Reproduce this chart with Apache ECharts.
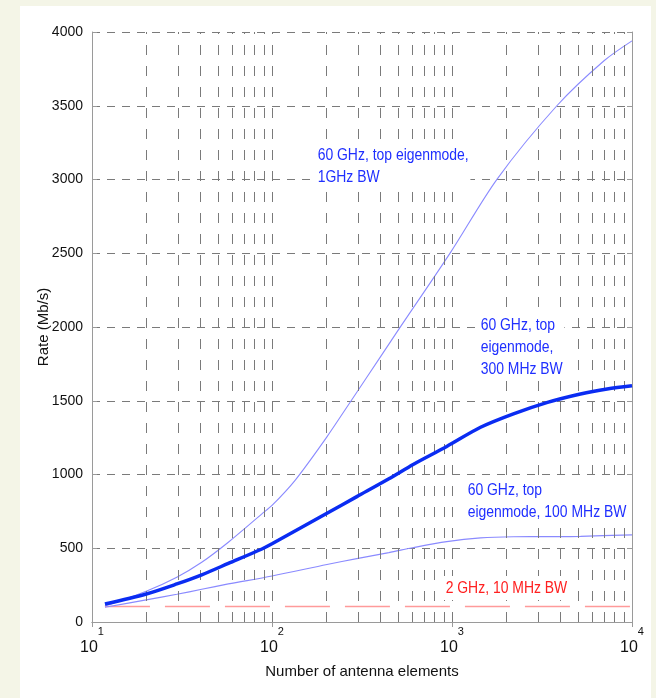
<!DOCTYPE html>
<html>
<head>
<meta charset="utf-8">
<script src="https://cdn.jsdelivr.net/npm/echarts@6/dist/echarts.min.js"></script>
<style>
  html, body { margin:0; padding:0; background:#f4f5e7; }
  #panel { position:absolute; left:20px; top:6px; width:631px; height:692px; background:#ffffff; }
  #chart { position:absolute; left:0; top:0; width:656px; height:698px; }
</style>
</head>
<body>
<div id="panel"></div>
<div id="chart"></div>
<script>
// ---- data ----
const n1GHz    = [11.8, 20, 29.6, 40.7, 57.2, 87.9, 100, 134, 201, 277, 330, 494, 982, 1781, 3825, 6992, 10000];
const rate1GHz = [108, 209, 304, 405, 541, 733, 790, 959, 1252, 1505, 1644, 1965, 2506, 3003, 3500, 3805, 3940];

const n300MHz    = [11.8, 20, 29.6, 40.7, 57.2, 87.9, 100, 202, 296, 446, 612, 935, 1441, 2194, 3393, 5170, 7276, 10000];
const rate300MHz = [122, 190, 258, 320, 397, 495, 530, 737, 850, 971, 1070, 1190, 1320, 1411, 1489, 1546, 1580, 1602];

const n100MHz    = [11.8, 20, 29.6, 40.7, 57.2, 100, 202, 296, 446, 612, 935, 1441, 2194, 3393, 5170, 10000];
const rate100MHz = [100, 150, 188, 222, 258, 312, 390, 430, 470, 505, 545, 570, 578, 579, 581, 591];

const n2GHz    = [11.8, 10000];
const rate2GHz = [105, 105];

const xGridValues = [20,30,40,50,60,70,80,90,100,200,300,400,500,600,700,800,900,1000,2000,3000,4000,5000,6000,7000,8000,9000];
const yTicks = [0, 500, 1000, 1500, 2000, 2500, 3000, 3500, 4000];

const labelsText = {
  l1: '60 GHz, top eigenmode,\n1GHz BW',
  l2: '60 GHz, top\neigenmode,\n300 MHz BW',
  l3: '60 GHz, top\neigenmode, 100 MHz BW',
  l4: '2 GHz, 10 MHz BW'
};

// ---- chart ----
const FONT = "'Liberation Sans', Arial, sans-serif";
const zip = (xs, ys) => xs.map((x, i) => [x, ys[i]]);

const chart = echarts.init(document.getElementById('chart'), null, { renderer: 'canvas' });

const axisGray = '#9a9a9a';
const gridGray = '#7a7a7a';
const NARROW = 0.82;

function note(x, y, text, color) {
  return {
    type: 'text', z: 100, x: x, y: y, scaleX: NARROW,
    style: { text: text, font: '17px ' + FONT, fill: color, lineHeight: 22, backgroundColor: '#fff', padding: [1, 2] }
  };
}

const option = {
  backgroundColor: 'transparent',
  animation: false,
  grid: { left: 92, right: 24, top: 32, bottom: 76 },
  xAxis: [{
    type: 'log', logBase: 10, min: 10, max: 10000,
    position: 'bottom',
    name: 'Number of antenna elements',
    nameLocation: 'middle', nameGap: 42, nameMoveOverlap: false,
    nameTextStyle: { fontFamily: FONT, fontSize: 15, color: '#111' },
    axisLine: { show: true, lineStyle: { color: axisGray, width: 1 } },
    axisTick: { show: true, inside: true, length: 5, lineStyle: { color: axisGray } },
    splitLine: { show: false },
    axisLabel: {
      margin: 4,
      formatter: v => '{b|10}{s|' + Math.round(Math.log10(v)) + '}',
      rich: {
        b: { fontFamily: FONT, fontSize: 16, color: '#111', lineHeight: 30, verticalAlign: 'bottom' },
        s: { fontFamily: FONT, fontSize: 11, color: '#111', lineHeight: 4, verticalAlign: 'top' }
      }
    }
  }, {
    type: 'log', logBase: 10, min: 10, max: 10000,
    position: 'top',
    axisLine: { show: true, lineStyle: { color: axisGray, width: 1 } },
    axisTick: { show: true, inside: true, length: 5, lineStyle: { color: axisGray } },
    axisLabel: { show: false },
    splitLine: { show: false }
  }],
  yAxis: [{
    type: 'value', min: 0, max: 4000, interval: 500,
    position: 'left',
    name: 'Rate (Mb/s)',
    nameLocation: 'middle', nameGap: 41, nameMoveOverlap: false,
    nameTextStyle: { fontFamily: FONT, fontSize: 15, color: '#111' },
    axisLine: { show: true, lineStyle: { color: axisGray, width: 1 } },
    axisTick: { show: true, inside: true, length: 5, lineStyle: { color: axisGray } },
    axisLabel: {
      margin: 9, fontFamily: FONT, fontSize: 14, color: '#111',
      formatter: v => yTicks.includes(v) ? String(v) : ''
    },
    splitLine: { show: true, lineStyle: { color: gridGray, type: [8, 7], width: 1 } }
  }, {
    type: 'value', min: 0, max: 4000, interval: 500,
    position: 'right',
    axisLine: { show: true, lineStyle: { color: axisGray, width: 1 } },
    axisTick: { show: true, inside: true, length: 5, lineStyle: { color: axisGray } },
    axisLabel: { show: false },
    splitLine: { show: false }
  }],
  series: [
    {
      name: '2 GHz, 10 MHz BW', type: 'line', xAxisIndex: 0, yAxisIndex: 0,
      data: zip(n2GHz, rate2GHz), symbol: 'none', silent: true, z: 3,
      lineStyle: { color: '#ff9a9a', width: 1.5, type: [45, 15] },
      markLine: {
        silent: true, symbol: 'none', label: { show: false },
        lineStyle: { color: gridGray, type: [10, 11], width: 1 },
        data: xGridValues.map(v => ({ xAxis: v }))
      }
    },
    {
      name: '100 MHz', type: 'line', data: zip(n100MHz, rate100MHz), symbol: 'none',
      smooth: 0.3, z: 4,
      lineStyle: { color: '#8a8aff', width: 1.2 }
    },
    {
      name: '1 GHz', type: 'line', data: zip(n1GHz, rate1GHz), symbol: 'none',
      smooth: 0.3, z: 4,
      lineStyle: { color: '#8a8aff', width: 1.1 }
    },
    {
      name: '300 MHz', type: 'line', data: zip(n300MHz, rate300MHz), symbol: 'none',
      smooth: 0.3, z: 5,
      lineStyle: { color: '#0a2cf2', width: 3.5 }
    }
  ],
  graphic: [
    note(316, 143, labelsText.l1, '#1f2fff'),
    note(479, 313, labelsText.l2, '#1f2fff'),
    note(466, 478, labelsText.l3, '#1f2fff'),
    note(444, 576, labelsText.l4, '#ff2020')
  ]
};
chart.setOption(option);
</script>
</body>
</html>
